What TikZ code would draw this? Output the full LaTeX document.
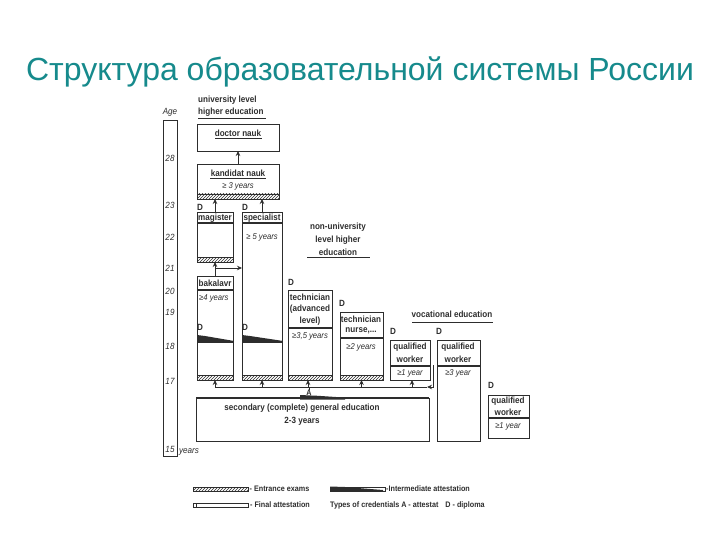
\documentclass[tikz,border=0pt]{standalone}
\usepackage{fontspec}
\setmainfont{Liberation Sans}
\newfontfamily\dfont[FakeStretch=0.9]{Liberation Sans}
\usetikzlibrary{patterns,arrows.meta}
\definecolor{teal1}{RGB}{22,138,140}
\definecolor{lc}{RGB}{45,45,45}
\newcommand\ebox[5]{\node[box,minimum width={(#4)-(#2)},minimum height={(#5)-(#3)}] (#1) at (#2,#3) {};}
\newcommand\hstrip[4]{\fill[pattern=north east lines,pattern color=lc] (#1,#3) rectangle (#2,#4);
  \draw[lc,line width=0.6pt] (#1,#3) -- (#2,#3) (#1,#4) -- (#2,#4);}
\newcommand\wedgebar[3]{\fill[lc] (#1,#3-7) -- (#1+8,#3-6) -- (#2,#3-1.2) -- (#2,#3) -- (#1,#3) -- cycle;
  \draw[lc,line width=0.6pt] (#1,#3) -- (#2,#3);}
\tikzset{
  box/.style={draw=lc,line width=0.8pt,inner sep=0pt,outer sep=0pt,anchor=north west},
  hdr/.style={draw=lc,line width=1.8pt},
  uline/.style={draw=lc,line width=0.8pt},
  arr/.style={draw=lc,line width=0.8pt,-{Stealth[length=5pt,width=4.5pt]}},
  lbl/.style={font=\dfont\bfseries\fontsize{9}{10}\selectfont,text=lc,inner sep=0pt},
  ital/.style={font=\dfont\itshape\fontsize{8.5}{10}\selectfont,text=lc,inner sep=0pt},
  agel/.style={font=\dfont\itshape\fontsize{9}{10}\selectfont,text=lc,inner sep=0pt},
  leg/.style={font=\dfont\bfseries\fontsize{8}{9}\selectfont,text=lc,inner sep=0pt,anchor=west},
}
\begin{document}
\begin{tikzpicture}[x=1pt,y=-1pt]
\useasboundingbox (0,0) rectangle (720,540);
% title
\node[font=\fontsize{32}{36}\selectfont,text=teal1,anchor=base,inner sep=0pt] (title) at (360,81) {Структура образовательной системы России};

% age axis
\ebox{age}{163}{120}{177}{456}
\node[agel] (agetxt) at (170,112) {Age};
\node[agel] (a28) at (170,158) {28};
\node[agel] (a23) at (170,205) {23};
\node[agel] (a22) at (170,237) {22};
\node[agel] (a21) at (170,268) {21};
\node[agel] (a20) at (170,291) {20};
\node[agel] (a19) at (170,312) {19};
\node[agel] (a18) at (170,346) {18};
\node[agel] (a17) at (170,381) {17};
\node[agel] (a15) at (170,449) {15};
\node[agel] (yrs) at (189,452) {years};

% university heading
\node[lbl,anchor=west] (uni1) at (198,100) {university level};
\node[lbl,anchor=west] (uni2) at (198,112) {higher education};
\draw[uline] (198,118) -- (266,118);

% doctor & kandidat
\ebox{doc}{197}{124}{279}{151}
\node[lbl] (doct) at (238,133) {doctor nauk};
\draw[uline] (215,138.5) -- (262,138.5);
\ebox{kand}{197}{164}{279}{199}
\node[lbl] (kandt) at (238,173) {kandidat nauk};
\draw[uline] (210,178) -- (266,178);
\node[ital] (kandy) at (238,186) {≥ 3 years};
\hstrip{197}{279}{194}{199}

% magister, specialist
\node[lbl] (dmag) at (200,207) {D};
\node[lbl] (dspec) at (245,207) {D};
\ebox{mag}{197}{212}{233}{262}
\node[lbl] (magt) at (215,218) {magister};
\draw[hdr] (197,223) -- (233,223);
\hstrip{197}{233}{257}{262}
\ebox{spec}{242}{212}{282}{380}
\node[lbl] (spect) at (262,218) {specialist};
\draw[hdr] (242,223) -- (282,223);
\node[ital] (specy) at (262,237) {≥ 5 years};
\node[lbl] (dspec2) at (245,327) {D};
\wedgebar{242}{282}{342}
\hstrip{242}{282}{375}{380}

% bakalavr
\ebox{bak}{197}{276}{233}{380}
\node[lbl] (bakt) at (215,283) {bakalavr};
\draw[hdr] (197,290) -- (233,290);
\node[ital,anchor=west] (baky) at (199,298) {≥4 years};
\node[lbl] (dbak) at (200,327) {D};
\wedgebar{197}{233}{342}
\hstrip{197}{233}{375}{380}

% non-university
\node[lbl] (nu1) at (338,227) {non-university};
\node[lbl] (nu2) at (338,240) {level higher};
\node[lbl] (nu3) at (338,252) {education};
\draw[uline] (307,257) -- (370,257);

% technician advanced
\node[lbl] (dtech) at (291,282) {D};
\ebox{tech}{288}{290}{332}{380}
\node[lbl] (tech1) at (310,297) {technician};
\node[lbl] (tech2) at (310,309) {(advanced};
\node[lbl] (tech3) at (310,321) {level)};
\draw[hdr] (288,328) -- (332,328);
\node[ital] (techy) at (310,336) {≥3,5 years};
\hstrip{288}{332}{375}{380}

% technician nurse
\node[lbl] (dnur) at (342,303) {D};
\ebox{nur}{340}{312}{383}{380}
\node[lbl] (nur1) at (361,319) {technician};
\node[lbl] (nur2) at (361,331) {nurse,...};
\draw[hdr] (340,338) -- (383,338);
\node[ital] (nury) at (361,347) {≥2 years};
\hstrip{340}{383}{375}{380}

% vocational
\node[lbl] (voc) at (452,314) {vocational education};
\draw[uline] (412,322) -- (493,322);

\node[lbl] (dq1) at (393,331) {D};
\ebox{qw1}{390}{340}{430}{380}
\node[lbl] (q1a) at (410,347) {qualified};
\node[lbl] (q1b) at (410,359) {worker};
\draw[hdr] (390,366) -- (430,366);
\node[ital] (q1y) at (410,373) {≥1 year};

\node[lbl] (dq2) at (439,331) {D};
\ebox{qw2}{437}{340}{480}{441}
\node[lbl] (q2a) at (458,347) {qualified};
\node[lbl] (q2b) at (458,359) {worker};
\draw[hdr] (437,366) -- (480,366);
\node[ital] (q2y) at (458,373) {≥3 year};

\node[lbl] (dq3) at (491,385) {D};
\ebox{qw3}{488}{395}{529}{438}
\node[lbl] (q3a) at (508,401) {qualified};
\node[lbl] (q3b) at (508,412) {worker};
\draw[hdr] (488,418) -- (529,418);
\node[ital] (q3y) at (508,426) {≥1 year};

% secondary
\ebox{sec}{196}{398}{429}{441}
\draw[lc,line width=1.3pt] (196,398) -- (429,398);
\node[lbl] (sect1) at (302,408) {secondary (complete) general education};
\node[lbl] (sect2) at (302,421) {2-3 years};
\fill[lc] (300,395) -- (318,395.8) -- (345,397.6) -- (345,399.5) -- (300,399.5) -- cycle;

% connectors
\draw[arr] (kand.north) -- (doc.south);
\draw[arr] (mag.north) -- (mag.north |- kand.south);
\draw[arr] (spec.north) -- (spec.north |- kand.south);
\draw[arr] (bak.north) -- (mag.south);
\coordinate (br) at (215,268);
\draw[arr] (br) -- (br -| spec.west);
\coordinate (busL) at (215,387);
\coordinate (busR) at (427,387);
\draw[lc,line width=0.8pt] (busL) -- (busR);
\draw[arr] (bak.south |- busL) -- (bak.south);
\draw[arr] (spec.south |- busL) -- (spec.south);
\draw[arr] (308,387) -- (308,380);
\draw[arr] (nur.south |- busL) -- (nur.south);
\draw[arr] (412,387) -- (412,380);
\node[lbl,font=\dfont\bfseries\fontsize{8}{9}\selectfont] (A) at (309,392.5) {A};
\draw[lc,line width=0.7pt] (A.north) -- (A.north |- busL);
\coordinate (q2o) at (433,365);
\draw[arr] (q2o) |- (busR);

% legend
\hstrip{193}{248}{487}{491}
\draw[lc,line width=0.6pt] (193,487) rectangle (248,491);
\node[leg] (l1) at (249.5,489) {- Entrance exams};
\draw[lc,line width=0.6pt] (193,503) rectangle (248,507);
\draw[lc,line width=0.6pt] (196,503) -- (196,507);
\node[leg] (l2) at (250,505) {- Final attestation};
\draw[lc,line width=0.6pt] (330,487) rectangle (385,491);
\fill[lc] (330,486.5) -- (345,487) -- (383,490) -- (383,491) -- (330,491) -- cycle;
\node[leg] (l3) at (386,489) {-Intermediate attestation};
\node[leg] (l4) at (330,505) {Types of credentials A - attestat\hspace{5pt} D - diploma};
\end{tikzpicture}
\end{document}
